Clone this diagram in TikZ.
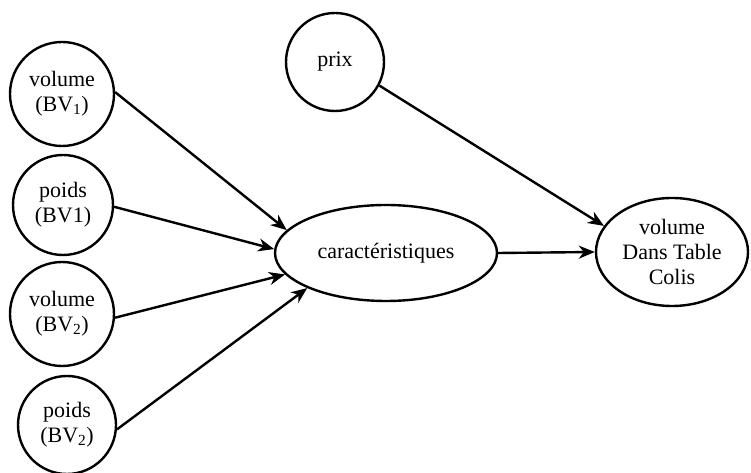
\documentclass[tikz,border=0pt]{standalone}
\usepackage{fontspec}
\setmainfont{Liberation Serif}
\usetikzlibrary{shapes.geometric,arrows.meta}

\begin{document}
\begin{tikzpicture}[x=1pt,y=1pt,
  bubble/.style={draw,circle,line width=2.4pt,inner sep=0pt,align=center,font=\fontsize{22}{25}\selectfont},
  oval/.style={draw,ellipse,line width=2.4pt,inner sep=0pt,align=center,font=\fontsize{22}{25}\selectfont},
  link/.style={line width=2.4pt,-{Stealth[length=16pt,width=13pt,inset=5pt]}}]
\useasboundingbox (0,0) rectangle (751,473);
\node[bubble,minimum size=104pt] (volBVa) at (62,379) {volume\\(BV\textsubscript{1})};
\node[bubble,minimum size=100pt] (poidsBVa) at (63,268) {poids\\(BV1)};
\node[bubble,minimum size=104pt] (volBVb) at (62,159) {volume\\(BV\textsubscript{2})};
\node[bubble,minimum size=98pt] (poidsBVb) at (67,48) {poids\\(BV\textsubscript{2})};
\node[bubble,minimum size=98pt] (prix) at (335,411) {prix};
\node[oval,minimum width=222pt,minimum height=96pt] (carac) at (386,220) {caractéristiques};
\node[oval,minimum width=152pt,minimum height=108pt] (volDTC) at (672,221) {volume\\Dans Table\\Colis};
\draw[link] (volBVa.2) -- (carac.167);
\draw[link] (poidsBVa.-2) -- (carac.178);
\draw[link] (volBVb.-4) -- (carac.192);
\draw[link] (poidsBVb.-5) -- (carac.204);
\draw[link] (prix.-28) -- (volDTC.159);
\draw[link] (carac.east) -- (volDTC.west);
\end{tikzpicture}
\end{document}
